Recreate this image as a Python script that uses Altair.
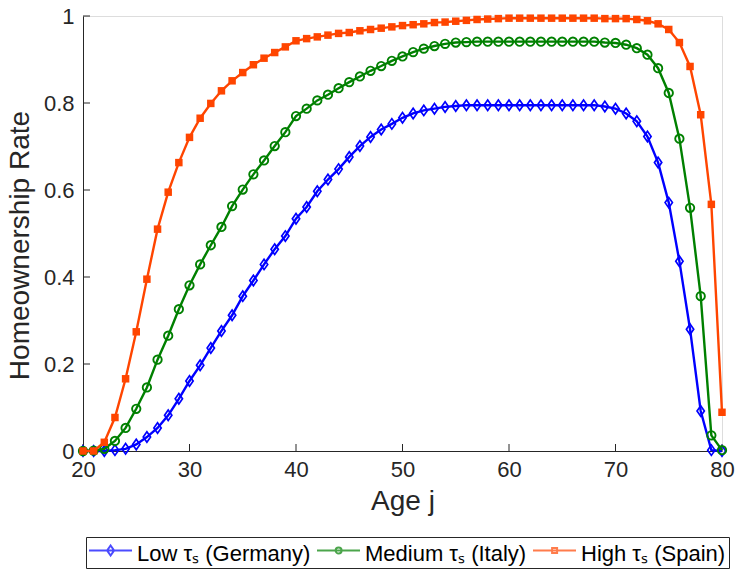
import altair as alt
import pandas as pd

ages = list(range(20, 81))

low = [0.0, 0.0, 0.0, 0.002, 0.005, 0.015, 0.032, 0.053, 0.082, 0.12,
       0.161, 0.197, 0.237, 0.276, 0.312, 0.356, 0.392, 0.429, 0.464, 0.494,
       0.534, 0.561, 0.597, 0.624, 0.648, 0.676, 0.701, 0.722, 0.739, 0.752,
       0.766, 0.776, 0.783, 0.787, 0.791, 0.793, 0.795, 0.795, 0.795, 0.795,
       0.795, 0.795, 0.795, 0.795, 0.795, 0.795, 0.795, 0.795, 0.795, 0.792,
       0.787, 0.776, 0.758, 0.723, 0.663, 0.571, 0.436, 0.280, 0.092, 0.002,
       0.0]

medium = [0.0, 0.001, 0.005, 0.023, 0.053, 0.097, 0.146, 0.21, 0.265, 0.326,
          0.381, 0.429, 0.473, 0.515, 0.563, 0.601, 0.636, 0.668, 0.701, 0.733,
          0.770, 0.787, 0.806, 0.819, 0.834, 0.848, 0.861, 0.874, 0.885, 0.897,
          0.907, 0.917, 0.925, 0.931, 0.936, 0.939, 0.940, 0.941, 0.941, 0.941,
          0.941, 0.941, 0.941, 0.941, 0.941, 0.941, 0.941, 0.941, 0.941, 0.939,
          0.938, 0.934, 0.926, 0.911, 0.880, 0.823, 0.718, 0.559, 0.356, 0.036,
          0.002]

high = [0.0, 0.0, 0.02, 0.077, 0.166, 0.274, 0.395, 0.51, 0.595, 0.663,
        0.721, 0.765, 0.799, 0.828, 0.851, 0.870, 0.888, 0.903, 0.916, 0.929,
        0.943, 0.948, 0.952, 0.956, 0.960, 0.962, 0.966, 0.969, 0.972, 0.975,
        0.978, 0.980, 0.982, 0.985, 0.986, 0.988, 0.990, 0.992, 0.993, 0.994,
        0.995, 0.995, 0.995, 0.995, 0.995, 0.995, 0.995, 0.995, 0.995, 0.994,
        0.994, 0.994, 0.992, 0.989, 0.982, 0.969, 0.939, 0.884, 0.773, 0.567,
        0.089]

series_labels = ["Low τₛ (Germany)", "Medium τₛ (Italy)", "High τₛ (Spain)"]
colors = ["#0000FF", "#008000", "#FF4500"]
x_ticks = [20, 30, 40, 50, 60, 70, 80]
y_ticks = [0, 0.2, 0.4, 0.6, 0.8, 1]

FONT = "Liberation Sans"
TXT = "#262626"
W, H = 639, 435

rows = []
for lab, vals in zip(series_labels, [low, medium, high]):
    for a, v in zip(ages, vals):
        rows.append({"age": a, "rate": v, "series": lab})
df = pd.DataFrame(rows)

xs = alt.Scale(domain=[20, 80], nice=False, zero=False)
ys = alt.Scale(domain=[0, 1], nice=False)

x_axis = alt.Axis(values=x_ticks, title="Age j", ticks=False, tickSize=0,
                  labelFlush=False,
                  labelFontSize=22, labelFont=FONT, labelColor=TXT, labelPadding=8,
                  titleFontSize=28, titleFont=FONT, titleColor=TXT,
                  titleFontWeight="normal", titlePadding=7,
                  domainColor=TXT, domainWidth=1, grid=False)
y_axis = alt.Axis(values=y_ticks, format="~g", title="Homeownership Rate",
                  ticks=False, tickSize=0, labelFlush=False,
                  labelFontSize=22, labelFont=FONT, labelColor=TXT, labelPadding=9,
                  titleFontSize=28, titleFont=FONT, titleColor=TXT,
                  titleFontWeight="normal", titlePadding=9, titleY=229,
                  domainColor=TXT, domainWidth=1, grid=False)

X = alt.X("age:Q", scale=xs, axis=x_axis)
Y = alt.Y("rate:Q", scale=ys, axis=y_axis)

layers = []

# inward tick marks
xt = pd.DataFrame({"age": x_ticks})
yt = pd.DataFrame({"rate": y_ticks})
layers.append(alt.Chart(xt).mark_rule(color=TXT, strokeWidth=1).encode(
    x=X, y=alt.value(H), y2=alt.value(H - 7)))
layers.append(alt.Chart(yt).mark_rule(color=TXT, strokeWidth=1).encode(
    y=Y, x=alt.value(0), x2=alt.value(7)))

diamond = "M0,-1L0.7,0L0,1L-0.7,0Z"
for i, (lab, col) in enumerate(zip(series_labels, colors)):
    sub = alt.Chart(df).transform_filter(alt.datum.series == lab)
    layers.append(sub.mark_line(color=col, strokeWidth=2.4).encode(x=X, y=Y))
    if i == 0:
        pts = sub.mark_point(shape=diamond, size=110, filled=False, color=col,
                             strokeWidth=1.7, opacity=1)
    elif i == 1:
        pts = sub.mark_point(shape="circle", size=70, filled=False, color=col,
                             strokeWidth=1.9, opacity=1)
    else:
        pts = sub.mark_point(shape="square", size=56, filled=True, color=col,
                             opacity=1)
    layers.append(pts.encode(x=X, y=Y))

# legend-only layer (no marks drawn)
leg_paths = [
    "M-1.05,-0.525L1.1,-0.525M0.03,-0.775L0.205,-0.525L0.03,-0.275L-0.145,-0.525Z",
    "M-1.05,-0.525L1.1,-0.525M0.18,-0.525A0.15,0.15,0,1,1,-0.12,-0.525A0.15,0.15,0,1,1,0.18,-0.525Z",
    "M-1.05,-0.525L1.1,-0.525M-0.095,-0.65L0.155,-0.65L0.155,-0.4L-0.095,-0.4Z",
]
leg = alt.Legend(title=None, orient="none", legendX=3, legendY=521,
                 direction="horizontal", columns=3, symbolSize=1600,
                 symbolStrokeWidth=2, labelOffset=6, columnPadding=2, padding=3,
                 labelFontSize=22, labelFont=FONT, labelColor="#000000",
                 labelLimit=400, strokeColor=TXT, fillColor="white",
                 labelBaseline="alphabetic")
layers.append(alt.Chart(df).transform_filter("datum.rate > 2").mark_point(
    filled=False, strokeWidth=2).encode(
    x=X, y=Y,
    color=alt.Color("series:N", scale=alt.Scale(domain=series_labels, range=colors), legend=leg),
    shape=alt.Shape("series:N", scale=alt.Scale(domain=series_labels, range=leg_paths), legend=leg),
))

chart = alt.layer(*layers).properties(
    width=W, height=H,
    autosize=alt.AutoSizeParams(type="none"),
    padding={"left": 83, "top": 16, "right": 737 - 83 - W, "bottom": 576 - 16 - H},
).configure_view(stroke=None).configure(background="white")

chart.save("out.html", embed_options={"renderer": "svg", "actions": False})
